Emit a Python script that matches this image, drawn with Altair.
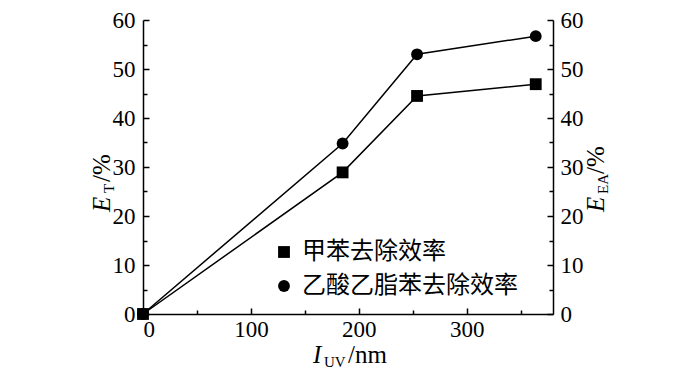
import altair as alt
import pandas as pd

# ---- data ----
x_uv = [0, 185, 254, 364]
toluene = [0, 28.9, 44.5, 46.9]
ethyl_acetate = [0, 34.8, 53.0, 56.7]
series_names = ["甲苯去除效率", "乙酸乙脂苯去除效率"]
x_tick_values = [0, 50, 100, 150, 200, 250, 300, 350]
y_tick_values = [0, 5, 10, 15, 20, 25, 30, 35, 40, 45, 50, 55, 60]

df = pd.DataFrame({
    "x": x_uv + x_uv,
    "y": toluene + ethyl_acetate,
    "s": [series_names[0]] * len(x_uv) + [series_names[1]] * len(x_uv),
})

W, H = 410, 294
SERIF = "Liberation Serif"
FS = 23
TFS = 25

xscale = alt.Scale(domain=[0, 380], nice=False, zero=False)
yscale = alt.Scale(domain=[0, 60], nice=False)

common = dict(
    domainColor="black", domainWidth=1.5, tickColor="black", tickWidth=1.5,
    labelFont=SERIF, labelFontSize=FS, labelColor="black", grid=False, title=None,
)

x_axis = alt.Axis(
    values=x_tick_values,
    labelExpr="datum.value % 100 === 0 ? datum.label : ''",
    tickSize={"condition": {"test": "datum.value % 100 === 0", "value": -6}, "value": -4},
    labelPadding=10,
    **common,
)
y_left = alt.Axis(
    values=y_tick_values, orient="left",
    labelExpr="datum.value % 10 === 0 ? datum.label : ''",
    tickSize={"condition": {"test": "datum.value % 10 === 0", "value": -6}, "value": -4},
    labelPadding=14,
    **common,
)
y_right = alt.Axis(
    values=y_tick_values, orient="right",
    labelExpr="datum.value % 10 === 0 ? datum.label : ''",
    tickSize={"condition": {"test": "datum.value % 10 === 0", "value": -6}, "value": -4},
    labelPadding=13,
    **common,
)

base = alt.Chart(df)
X = alt.X("x:Q", scale=xscale, axis=x_axis)

lines = base.mark_line(color="black", strokeWidth=1.5).encode(
    x=X, y=alt.Y("y:Q", scale=yscale, axis=y_left), detail="s:N"
)
points = base.mark_point(filled=True, color="black", opacity=1, size=140).encode(
    x=X,
    y=alt.Y("y:Q", scale=yscale, axis=y_left),
    shape=alt.Shape(
        "s:N",
        scale=alt.Scale(domain=series_names, range=["square", "circle"]),
        legend=alt.Legend(
            title=None, orient="none", legendX=129, legendY=220,
            labelFont="Noto Sans CJK SC", labelFontSize=24, labelColor="black",
            labelLimit=0,
            symbolSize=140, symbolFillColor="black", symbolStrokeColor="black",
            symbolType="square", labelOffset=6, rowPadding=10, padding=0,
        ),
    ),
)
left = alt.layer(lines, points)

right = base.mark_point(opacity=0).encode(
    x=X, y=alt.Y("y:Q", scale=yscale, axis=y_right)
)

one = pd.DataFrame({"a": [0]})

def txt(t, x, y, size=TFS, italic=False, angle=0):
    kw = dict(text=t, font=SERIF, fontSize=size, color="black", align="left",
              baseline="alphabetic")
    if italic:
        kw["fontStyle"] = "italic"
    if angle:
        kw["angle"] = angle
    return alt.Chart(one).mark_text(**kw).encode(x=alt.value(x), y=alt.value(y))

titles = alt.layer(
    # left title E_T/%
    txt("E", -33, 192, italic=True, angle=270),
    txt("T", -29, 173, size=15, angle=270),
    txt("/%", -33, 162, angle=270),
    # right title E_EA/%
    txt("E", 461, 192, italic=True, angle=270),
    txt("EA", 465, 174, size=15, angle=270),
    txt("/%", 461, 154, angle=270),
    # x title I_UV/nm
    txt("I", 170, 343, italic=True),
    txt("UV", 181, 347, size=15),
    txt("/nm", 205, 343),
)

chart = alt.layer(left, right, titles).resolve_scale(y="independent").properties(
    width=W, height=H,
    autosize=alt.AutoSizeParams(type="none"),
    padding={"left": 135, "top": 12, "right": 139, "bottom": 55},
    background="white",
).configure_view(stroke=None).configure_axis(
    labelFont=SERIF, labelFontSize=FS, labelColor="black"
)

chart.save("out.html", embed_options={"renderer": "svg", "actions": False})
